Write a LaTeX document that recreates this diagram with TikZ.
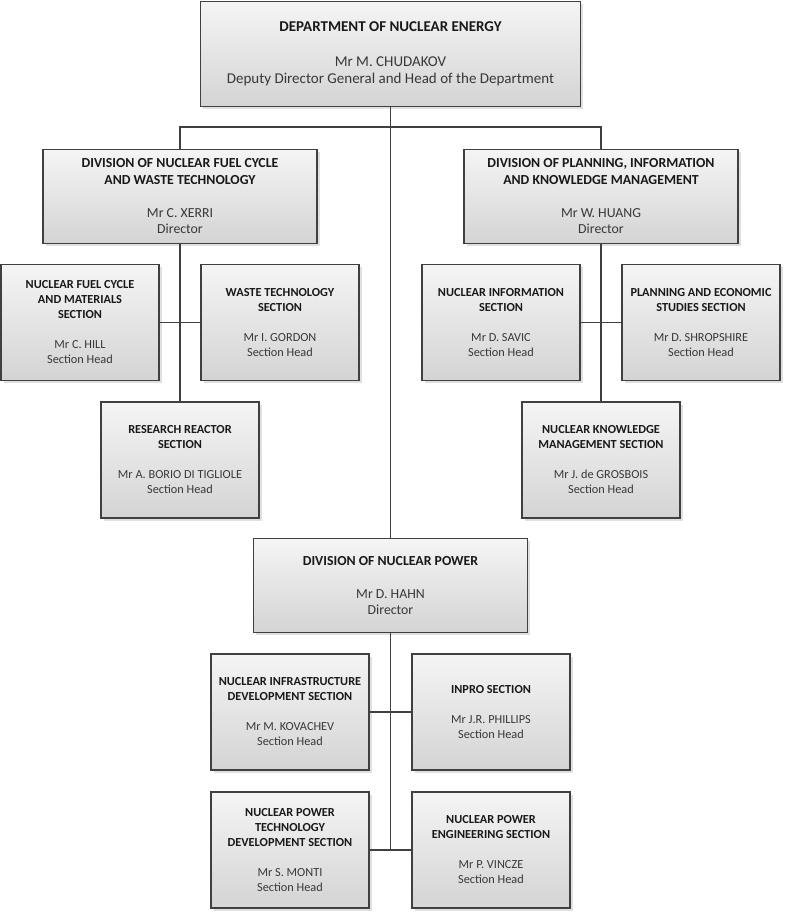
\documentclass[tikz,border=0pt]{standalone}
\usepackage{fontspec}
\setmainfont{Carlito}
\usetikzlibrary{shadows}

\tikzset{
    unit/.style={rectangle, draw=black!75, line width=1.4pt, align=center,
        top color=white!96!black, bottom color=black!17, text=black!78,
        drop shadow={shadow xshift=2.5pt, shadow yshift=-2.5pt, opacity=0.12, fill=black}},
    dept/.style={unit, minimum width=380pt, minimum height=105pt,
        font=\fontsize{15}{17.5}\selectfont},
    division/.style={unit, minimum width=274pt, minimum height=94pt,
        font=\fontsize{13.8}{16.5}\selectfont},
    section/.style={unit, minimum width=158pt, minimum height=116pt,
        font=\fontsize{12.3}{15}\selectfont},
    link/.style={draw=black!75, line width=1.4pt}
}
\newcommand{\hd}[1]{\textbf{\color{black!90}#1}}

\begin{document}
\begin{tikzpicture}[x=1pt, y=-1pt]
            \useasboundingbox (0, 0) rectangle (785, 913);

            % department and divisions
            \node[dept] (dept) at (390.5, 54) {\hd{DEPARTMENT OF NUCLEAR ENERGY}\\[\baselineskip]Mr M. CHUDAKOV\\Deputy Director General and Head of the Department};
            \node[division] (fuel) at (180, 196.5) {\hd{DIVISION OF NUCLEAR FUEL CYCLE}\\\hd{AND WASTE TECHNOLOGY}\\[\baselineskip]Mr C. XERRI\\Director};
            \node[division] (plan) at (601, 196.5) {\hd{DIVISION OF PLANNING, INFORMATION}\\\hd{AND KNOWLEDGE MANAGEMENT}\\[\baselineskip]Mr W. HUANG\\Director};
            \node[division] (power) at (390.5, 585.5) {\hd{DIVISION OF NUCLEAR POWER}\\[\baselineskip]Mr D. HAHN\\Director};

            % fuel cycle sections
            \node[section] (fcm) at (80, 322.5) {\hd{NUCLEAR FUEL CYCLE}\\\hd{AND MATERIALS}\\\hd{SECTION}\\[\baselineskip]Mr C. HILL\\Section Head};
            \node[section] (waste) at (280, 322.5) {\hd{WASTE TECHNOLOGY}\\\hd{SECTION}\\[\baselineskip]Mr I. GORDON\\Section Head};
            \node[section] (reactor) at (180, 460) {\hd{RESEARCH REACTOR}\\\hd{SECTION}\\[\baselineskip]Mr A. BORIO DI TIGLIOLE\\Section Head};

            % planning sections
            \node[section] (info) at (501, 322.5) {\hd{NUCLEAR INFORMATION}\\\hd{SECTION}\\[\baselineskip]Mr D. SAVIC\\Section Head};
            \node[section] (econ) at (701, 322.5) {\hd{PLANNING AND ECONOMIC}\\\hd{STUDIES SECTION}\\[\baselineskip]Mr D. SHROPSHIRE\\Section Head};
            \node[section] (knowledge) at (601, 460) {\hd{NUCLEAR KNOWLEDGE}\\\hd{MANAGEMENT SECTION}\\[\baselineskip]Mr J. de GROSBOIS\\Section Head};

            % power sections
            \node[section] (infra) at (290, 712) {\hd{NUCLEAR INFRASTRUCTURE}\\\hd{DEVELOPMENT SECTION}\\[\baselineskip]Mr M. KOVACHEV\\Section Head};
            \node[section] (inpro) at (491, 712) {\hd{INPRO SECTION}\\[\baselineskip]Mr J.R. PHILLIPS\\Section Head};
            \node[section] (techdev) at (290, 850) {\hd{NUCLEAR POWER}\\\hd{TECHNOLOGY}\\\hd{DEVELOPMENT SECTION}\\[\baselineskip]Mr S. MONTI\\Section Head};
            \node[section] (engineering) at (491, 850) {\hd{NUCLEAR POWER}\\\hd{ENGINEERING SECTION}\\[\baselineskip]Mr P. VINCZE\\Section Head};

            % connectors
            \coordinate (bus) at (390.5, 127);
            \draw[link] (dept.south) -- (power.north);
            \draw[link] (fuel.north) |- (bus) -| (plan.north);
            \draw[link] (fuel.south) -- (reactor.north);
            \draw[link] (fcm.east) -- (waste.west);
            \draw[link] (plan.south) -- (knowledge.north);
            \draw[link] (info.east) -- (econ.west);
            \draw[link] (power.south) -- (power.south |- techdev.east);
            \draw[link] (infra.east) -- (inpro.west);
            \draw[link] (techdev.east) -- (engineering.west);
        \end{tikzpicture}
\end{document}
